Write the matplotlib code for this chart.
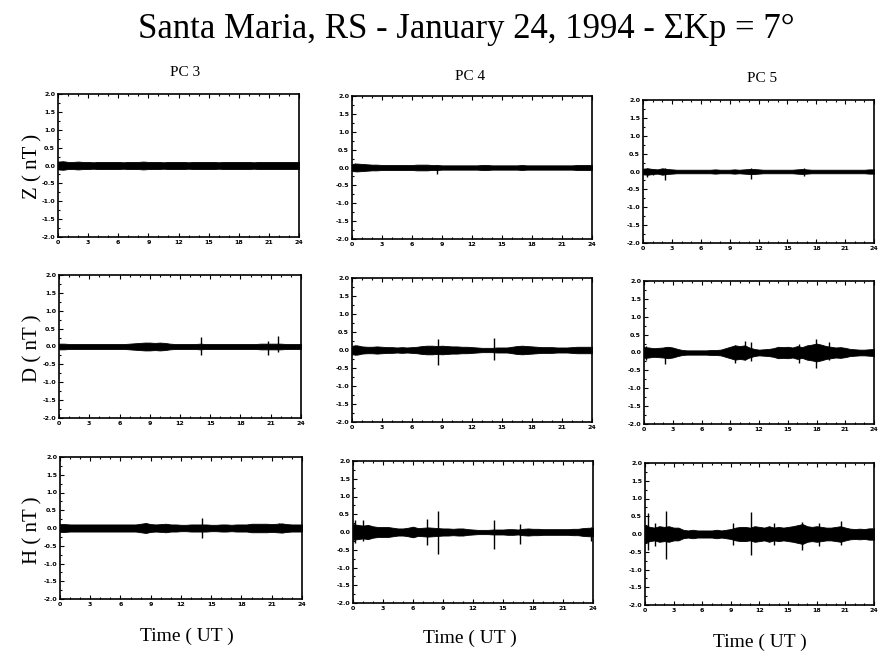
import matplotlib
matplotlib.use("Agg")
import matplotlib.pyplot as plt
import numpy as np
from matplotlib.ticker import MultipleLocator

# time axis, half-hour steps (UT)
hours = np.arange(0, 24.01, 0.5)

# half-amplitude of the pulsation band (nT), every 0.5 h
z_pc3 = [0.11, 0.12, 0.10, 0.10, 0.11, 0.10, 0.10,
         0.09, 0.10, 0.10, 0.10, 0.10, 0.10, 0.09,
         0.10, 0.10, 0.10, 0.11, 0.10, 0.10, 0.10,
         0.09, 0.10, 0.10, 0.10, 0.10, 0.09, 0.10,
         0.10, 0.10, 0.10, 0.10, 0.09, 0.10, 0.10,
         0.10, 0.10, 0.10, 0.10, 0.09, 0.10, 0.10,
         0.10, 0.10, 0.10, 0.10, 0.10, 0.10, 0.10]
d_pc3 = [0.08, 0.08, 0.07, 0.07, 0.07, 0.07, 0.07,
         0.07, 0.07, 0.07, 0.07, 0.07, 0.07, 0.07,
         0.08, 0.09, 0.10, 0.11, 0.11, 0.10, 0.11,
         0.10, 0.08, 0.07, 0.07, 0.07, 0.07, 0.07,
         0.08, 0.07, 0.07, 0.07, 0.07, 0.07, 0.07,
         0.07, 0.07, 0.07, 0.07, 0.07, 0.08, 0.08,
         0.08, 0.08, 0.08, 0.07, 0.07, 0.07, 0.07]
h_pc3 = [0.11, 0.11, 0.10, 0.10, 0.10, 0.10, 0.10,
         0.10, 0.10, 0.10, 0.10, 0.10, 0.10, 0.10,
         0.10, 0.10, 0.12, 0.14, 0.11, 0.10, 0.11,
         0.12, 0.10, 0.10, 0.09, 0.09, 0.10, 0.10,
         0.10, 0.10, 0.09, 0.09, 0.10, 0.10, 0.09,
         0.10, 0.10, 0.10, 0.12, 0.12, 0.12, 0.12,
         0.11, 0.12, 0.13, 0.11, 0.10, 0.10, 0.10]
z_pc4 = [0.10, 0.11, 0.10, 0.09, 0.08, 0.08, 0.07,
         0.07, 0.07, 0.07, 0.07, 0.07, 0.07, 0.08,
         0.08, 0.08, 0.07, 0.07, 0.06, 0.06, 0.06,
         0.06, 0.06, 0.06, 0.06, 0.06, 0.07, 0.07,
         0.06, 0.06, 0.06, 0.06, 0.06, 0.06, 0.07,
         0.06, 0.06, 0.06, 0.06, 0.06, 0.06, 0.06,
         0.06, 0.06, 0.06, 0.07, 0.07, 0.07, 0.07]
d_pc4 = [0.12, 0.13, 0.10, 0.09, 0.09, 0.10, 0.09,
         0.08, 0.08, 0.07, 0.08, 0.07, 0.08, 0.09,
         0.11, 0.12, 0.12, 0.11, 0.12, 0.11, 0.10,
         0.10, 0.09, 0.09, 0.08, 0.07, 0.06, 0.06,
         0.06, 0.07, 0.07, 0.07, 0.09, 0.11, 0.12,
         0.11, 0.10, 0.09, 0.08, 0.08, 0.08, 0.07,
         0.07, 0.07, 0.08, 0.09, 0.09, 0.09, 0.09]
h_pc4 = [0.22, 0.20, 0.18, 0.20, 0.16, 0.14, 0.14,
         0.14, 0.12, 0.10, 0.10, 0.12, 0.15, 0.11,
         0.12, 0.13, 0.12, 0.11, 0.10, 0.10, 0.09,
         0.10, 0.10, 0.08, 0.07, 0.06, 0.06, 0.06,
         0.07, 0.07, 0.07, 0.08, 0.08, 0.07, 0.09,
         0.10, 0.09, 0.09, 0.08, 0.08, 0.08, 0.08,
         0.08, 0.08, 0.09, 0.09, 0.11, 0.12, 0.12]
z_pc5 = [0.08, 0.09, 0.07, 0.06, 0.09, 0.07, 0.06,
         0.05, 0.05, 0.05, 0.05, 0.05, 0.05, 0.05,
         0.05, 0.06, 0.05, 0.05, 0.05, 0.06, 0.05,
         0.06, 0.07, 0.07, 0.06, 0.05, 0.05, 0.05,
         0.05, 0.05, 0.05, 0.05, 0.06, 0.07, 0.06,
         0.05, 0.05, 0.05, 0.05, 0.05, 0.05, 0.05,
         0.05, 0.05, 0.05, 0.05, 0.05, 0.06, 0.06]
d_pc5 = [0.15, 0.14, 0.12, 0.13, 0.14, 0.16, 0.14,
         0.10, 0.07, 0.06, 0.06, 0.06, 0.06, 0.06,
         0.07, 0.07, 0.08, 0.12, 0.16, 0.20, 0.18,
         0.20, 0.14, 0.10, 0.08, 0.09, 0.10, 0.12,
         0.16, 0.15, 0.16, 0.14, 0.18, 0.15, 0.20,
         0.22, 0.25, 0.22, 0.18, 0.16, 0.14, 0.15,
         0.13, 0.10, 0.09, 0.08, 0.08, 0.09, 0.10]
h_pc5 = [0.25, 0.20, 0.18, 0.22, 0.20, 0.22, 0.18,
         0.18, 0.12, 0.10, 0.12, 0.10, 0.10, 0.10,
         0.10, 0.12, 0.10, 0.12, 0.14, 0.18, 0.20,
         0.20, 0.18, 0.22, 0.20, 0.18, 0.22, 0.18,
         0.20, 0.18, 0.20, 0.22, 0.25, 0.28, 0.22,
         0.20, 0.22, 0.20, 0.18, 0.18, 0.20, 0.22,
         0.18, 0.15, 0.14, 0.15, 0.14, 0.16, 0.16]

# isolated spikes: (time UT, max nT, min nT)
spk_z_pc3 = []
spk_d_pc3 = [(14.1, 0.26, -0.25), (20.7, 0.15, -0.23), (21.75, 0.30, -0.14)]
spk_h_pc3 = [(8.5, 0.15, -0.10), (14.1, 0.27, -0.28), (21.7, 0.15, -0.05)]
spk_z_pc4 = [(0.3, 0.12, -0.10), (8.5, 0.08, -0.19)]
spk_d_pc4 = [(0.3, 0.15, -0.15), (8.55, 0.31, -0.42), (14.2, 0.34, -0.28)]
spk_h_pc4 = [(0.2, 0.35, -0.30), (1.0, 0.33, -0.25), (7.4, 0.37, -0.37),
             (8.5, 0.59, -0.63), (14.1, 0.34, -0.49), (16.7, 0.23, -0.35),
             (23.8, 0.15, -0.25)]
spk_z_pc5 = [(0.4, 0.10, -0.15), (1.0, 0.08, -0.10), (2.3, 0.09, -0.23),
             (11.2, 0.10, -0.20), (16.7, 0.10, -0.12)]
spk_d_pc5 = [(0.2, 0.18, -0.20), (2.2, 0.15, -0.31), (9.5, 0.20, -0.30),
             (10.5, 0.33, -0.20), (11.2, 0.28, -0.25), (16.2, 0.25, -0.30),
             (17.9, 0.37, -0.42), (19.3, 0.28, -0.20)]
spk_h_pc5 = [(0.3, 0.60, -0.44), (1.0, 0.30, -0.35), (2.2, 0.65, -0.70),
             (9.2, 0.30, -0.30), (11.15, 0.63, -0.58), (13.5, 0.30, -0.30),
             (16.5, 0.35, -0.44), (18.2, 0.30, -0.35), (20.5, 0.38, -0.30)]

band_rows = [[z_pc3, z_pc4, z_pc5], [d_pc3, d_pc4, d_pc5], [h_pc3, h_pc4, h_pc5]]
spike_rows = [[spk_z_pc3, spk_z_pc4, spk_z_pc5],
              [spk_d_pc3, spk_d_pc4, spk_d_pc5],
              [spk_h_pc3, spk_h_pc4, spk_h_pc5]]
col_titles = ["PC 3", "PC 4", "PC 5"]
row_labels = ["Z ( nT )", "D ( nT )", "H ( nT )"]
xtick_vals = [0, 3, 6, 9, 12, 15, 18, 21, 24]
ytick_vals = [2.0, 1.5, 1.0, 0.5, 0.0, -0.5, -1.0, -1.5, -2.0]

W, H = 883, 653
fig = plt.figure(figsize=(W / 100, H / 100), dpi=100)
serif = "Liberation Serif"

# panel boxes in pixels: left, top, right, bottom (scan is slightly skewed)
boxes = [[(58, 94, 299, 237), (352, 96, 592, 239), (643, 100, 874, 243)],
         [(59, 275, 301, 418), (352, 278, 592, 422), (644, 281, 874, 424)],
         [(60, 457, 302, 599), (353, 461, 593, 603), (645, 463, 874, 605)]]

for r in range(3):
    for c in range(3):
        l, t, rr, b = boxes[r][c]
        ax = fig.add_axes([l / W, 1 - b / H, (rr - l) / W, (b - t) / H])
        amp = np.array(band_rows[r][c])
        ax.fill_between(hours, -amp, amp, color="black", lw=0.6, edgecolor="black")
        for ts, top, bot in spike_rows[r][c]:
            ax.vlines(ts, bot, top, color="black", lw=1.0)
        ax.set_xlim(0, 24)
        ax.set_ylim(-2, 2)
        ax.set_xticks(xtick_vals)
        ax.set_xticklabels([str(v) for v in xtick_vals])
        ax.set_yticks(ytick_vals)
        ax.set_yticklabels(["%.1f" % v for v in ytick_vals])
        ax.xaxis.set_minor_locator(MultipleLocator(1))
        ax.yaxis.set_minor_locator(MultipleLocator(0.25))
        ax.tick_params(which="both", direction="in", top=True, right=False,
                       labelsize=4.5, pad=2, width=0.8)
        ax.tick_params(which="major", length=3)
        ax.tick_params(which="minor", length=1.5)
        for lab in ax.get_xticklabels() + ax.get_yticklabels():
            lab.set_fontweight("bold")
        for sp in ax.spines.values():
            sp.set_linewidth(1.2)

fig.text(466 / W, 1 - 30 / H, "Santa Maria, RS - January 24, 1994 - ΣKp = 7°",
         family=serif, fontsize=25, ha="center", va="center")

col_x = [185, 470, 762]
col_y = [72, 76, 78]
for i in range(3):
    fig.text(col_x[i] / W, 1 - col_y[i] / H, col_titles[i], family=serif,
             fontsize=11, ha="center", va="center")

row_y = [166, 348, 530]
for i in range(3):
    fig.text(33 / W, 1 - row_y[i] / H, row_labels[i], family=serif,
             fontsize=15, rotation=90, ha="center", va="center")

time_x = [187, 470, 760]
time_y = [636, 638, 642]
for i in range(3):
    fig.text(time_x[i] / W, 1 - time_y[i] / H, "Time ( UT )", family=serif,
             fontsize=14, ha="center", va="center")

plt.savefig("out.png", dpi=100)
